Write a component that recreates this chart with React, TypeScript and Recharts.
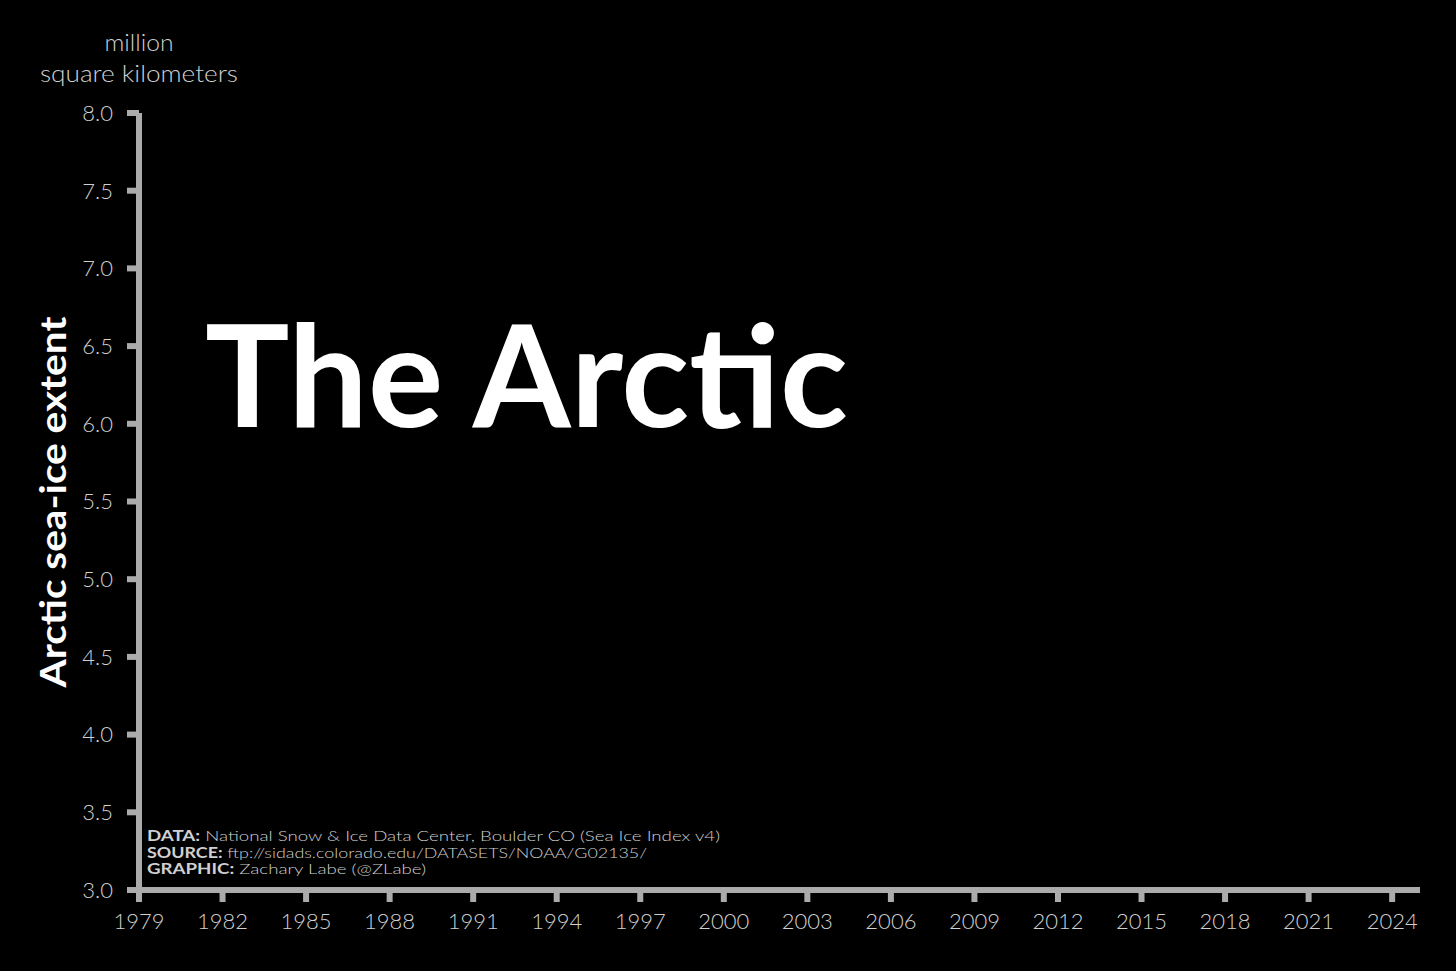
import React from 'react';
import { LineChart, Line, XAxis, YAxis, Customized } from 'recharts';

// ---- data ----
const yearTicks = [1979, 1982, 1985, 1988, 1991, 1994, 1997, 2000, 2003, 2006, 2009, 2012, 2015, 2018, 2021, 2024];
const extentTicks = [3.0, 3.5, 4.0, 4.5, 5.0, 5.5, 6.0, 6.5, 7.0, 7.5, 8.0];
const xDomain: [number, number] = [1979, 2025];
const yDomain: [number, number] = [3, 8];
// The reference shows the empty frame: no extent values are plotted yet.
const extentValues: (number | null)[] = yearTicks.map(() => null);
const chartData = yearTicks.map((year, i) => ({ year, extent: extentValues[i] }));

const titleText = 'The Arctic';
const yLabelText = 'Arctic sea-ice extent';
const unitLines = ['million', 'square kilometers'];
const credits = [
  { head: 'DATA:', body: ' National Snow & Ice Data Center, Boulder CO (Sea Ice Index v4)' },
  { head: 'SOURCE:', body: ' ftp://sidads.colorado.edu/DATASETS/NOAA/G02135/' },
  { head: 'GRAPHIC:', body: ' Zachary Labe (@ZLabe)' },
];
const creditWidths = [573, 500, 279];
const unitWidths = [69, 198];

const FONT = 'Lato, "Open Sans", "DejaVu Sans", sans-serif';
const AXIS = '#ababab';
const TICKTXT = '#d0d0d0';

const Annotations = () => (
  <g>
    <text
      x={205}
      y={427}
      fill="#ffffff"
      fontFamily={FONT}
      fontWeight={700}
      fontSize={142}
      textLength={643}
      lengthAdjust="spacingAndGlyphs"
    >
      {titleText}
    </text>
    <text
      x={66}
      y={502}
      transform="rotate(-90 66 502)"
      textAnchor="middle"
      fill="#ffffff"
      fontFamily={FONT}
      fontWeight={700}
      fontSize={37}
      textLength={371}
      lengthAdjust="spacingAndGlyphs"
    >
      {yLabelText}
    </text>
    {unitLines.map((t, i) => (
      <text
        key={t}
        x={139}
        y={51 + i * 31}
        textAnchor="middle"
        fill={TICKTXT}
        fontFamily={FONT}
        fontWeight={300}
        fontSize={23}
        textLength={unitWidths[i]}
        lengthAdjust="spacingAndGlyphs"
      >
        {t}
      </text>
    ))}
    {credits.map((c, i) => (
      <text
        key={c.head}
        x={147}
        y={841 + i * 16.5}
        fill={TICKTXT}
        fontFamily={FONT}
        fontSize={14.5}
        textLength={creditWidths[i]}
        lengthAdjust="spacingAndGlyphs"
      >
        <tspan fontWeight={700}>{c.head}</tspan>
        <tspan fontWeight={300}>{c.body}</tspan>
      </text>
    ))}
  </g>
);

export default function App() {
  return (
    <div style={{ position: 'absolute', left: 0, top: 0, width: 1456, height: 971, background: '#000' }}>
      <LineChart
        width={1456}
        height={971}
        data={chartData}
        margin={{ top: 113, right: 36, bottom: 21, left: 59 }}
        style={{ background: '#000' }}
      >
        <XAxis
          dataKey="year"
          type="number"
          domain={xDomain}
          ticks={yearTicks}
          allowDataOverflow
          interval={0}
          height={60}
          stroke={AXIS}
          strokeWidth={6}
          axisLine={{ stroke: AXIS, strokeWidth: 6 }}
          tickLine={{ stroke: AXIS, strokeWidth: 6 }}
          tickSize={12}
          tickMargin={11}
          tick={{ fill: TICKTXT, fontSize: 22, fontFamily: FONT, fontWeight: 300 }}
        />
        <YAxis
          type="number"
          domain={yDomain}
          ticks={extentTicks}
          allowDataOverflow
          interval={0}
          width={80}
          stroke={AXIS}
          strokeWidth={6}
          axisLine={{ stroke: AXIS, strokeWidth: 6 }}
          tickLine={{ stroke: AXIS, strokeWidth: 6 }}
          tickSize={12}
          tickMargin={14}
          tickFormatter={(v: number) => v.toFixed(1)}
          tick={{ fill: TICKTXT, fontSize: 22, fontFamily: FONT, fontWeight: 300 }}
        />
        <Line
          dataKey="extent"
          stroke="#ffffff"
          dot={false}
          isAnimationActive={false}
          connectNulls={false}
        />
        <Customized component={Annotations} />
      </LineChart>
    </div>
  );
}
